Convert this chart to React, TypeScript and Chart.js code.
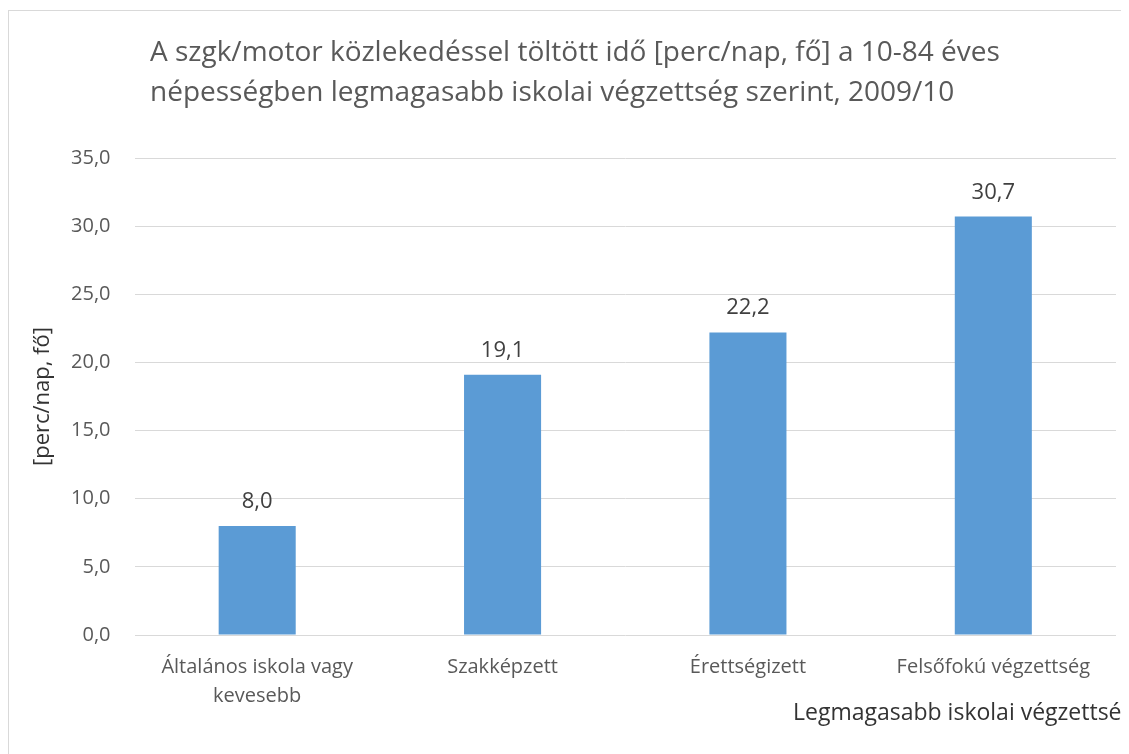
import React, { useEffect, useRef } from "react";
import { Chart, registerables } from "chart.js";

Chart.register(...registerables);

const categories: (string | string[])[] = [
  ["Általános iskola vagy", "kevesebb"],
  "Szakképzett",
  "Érettségizett",
  "Felsőfokú végzettség",
];
const values: number[] = [8.0, 19.1, 22.2, 30.7];
const titleLines: string[] = [
  "A szgk/motor közlekedéssel töltött idő [perc/nap, fő] a 10-84 éves",
  "népességben legmagasabb iskolai végzettség szerint, 2009/10",
];
const yAxisTitle = "[perc/nap, fő]";
const xAxisTitle = "Legmagasabb iskolai végzettség";
const yMin = 0;
const yMax = 35;
const yStep = 5;

const FONT = "'Open Sans', 'DejaVu Sans', sans-serif";
const fmt = (v: number) => v.toFixed(1).replace(".", ",");

export default function App() {
  const ref = useRef<HTMLCanvasElement | null>(null);

  useEffect(() => {
    document.body.style.overflow = "hidden";
    document.documentElement.style.overflow = "hidden";
    const canvas = ref.current;
    if (!canvas) return;

    const annot = {
      id: "annot",
      afterDraw(chart: any) {
        const ctx = chart.ctx;
        ctx.save();
        ctx.fillStyle = "#595959";
        ctx.font = `28px ${FONT}`;
        ctx.textAlign = "left";
        ctx.textBaseline = "alphabetic";
        titleLines.forEach((t, i) => ctx.fillText(t, 141, 50 + i * 40));
        ctx.fillStyle = "#333333";
        ctx.font = `23px ${FONT}`;
        ctx.fillText(xAxisTitle, 784, 709);
        // data labels
        const meta = chart.getDatasetMeta(0);
        ctx.fillStyle = "#404040";
        ctx.font = `22px ${FONT}`;
        ctx.textAlign = "center";
        meta.data.forEach((el: any, i: number) => {
          ctx.fillText(fmt(values[i]), el.x, el.y - 18);
        });
        ctx.restore();
      },
    };

    const chart = new Chart(canvas, {
      type: "bar",
      data: {
        labels: categories,
        datasets: [
          {
            data: values,
            backgroundColor: "#5B9BD5",
            borderWidth: 0,
            barPercentage: 0.314,
            categoryPercentage: 1,
          },
        ],
      },
      options: {
        responsive: false,
        animation: false,
        layout: { padding: { top: 147, right: 93, left: 0, bottom: 0 } },
        plugins: {
          legend: { display: false },
          title: { display: false },
          tooltip: { enabled: false },
        },
        scales: {
          x: {
            offset: true,
            grid: { display: false, drawTicks: false },
            border: { display: false },
            ticks: {
              color: "#595959",
              font: { family: FONT, size: 20, lineHeight: 1.45 },
              padding: 18,
              maxRotation: 0,
              autoSkip: false,
            },
            afterFit(scale: any) {
              scale.height = 136;
            },
          },
          y: {
            min: yMin,
            max: yMax,
            grid: { color: "#d9d9d9", lineWidth: 1, drawTicks: false },
            border: { display: false },
            ticks: {
              stepSize: yStep,
              color: "#595959",
              font: { family: FONT, size: 20 },
              padding: 24,
              callback: (v: any) => fmt(Number(v)),
            },
            title: {
              display: true,
              text: yAxisTitle,
              color: "#333333",
              font: { family: FONT, size: 22 },
              padding: { top: 21, bottom: 0 },
            },
            afterFit(scale: any) {
              scale.width = 125.5;
            },
          },
        },
      },
      plugins: [annot],
    });
    return () => chart.destroy();
  }, []);

  return (
    <div
      style={{
        marginTop: 2,
        width: 1200,
        height: 760,
        borderLeft: "1px solid #d9d9d9",
        borderTop: "1px solid #d9d9d9",
        background: "#fff",
      }}
    >
      <canvas ref={ref} width={1200} height={760} style={{ display: "block" }} />
    </div>
  );
}
